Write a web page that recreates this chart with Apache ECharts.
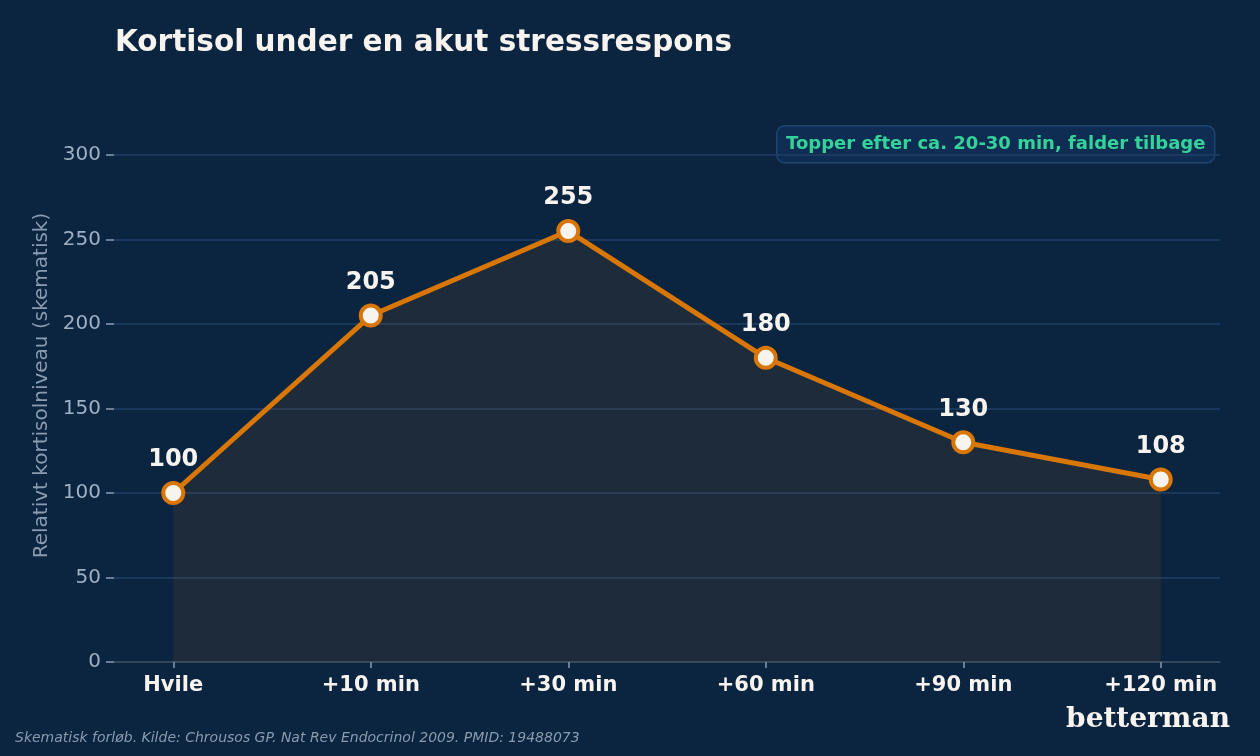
<!DOCTYPE html>
<html>
<head>
<meta charset="utf-8">
<script src="https://cdn.jsdelivr.net/npm/echarts@6/dist/echarts.min.js"></script>
<style>
  html, body { margin: 0; padding: 0; background: #0b2440; }
  #main { width: 1260px; height: 756px; }
</style>
</head>
<body>
<div id="main"></div>
<script>
// data
var categories = ['Hvile', '+10 min', '+30 min', '+60 min', '+90 min', '+120 min'];
var values = [100, 205, 255, 180, 130, 108];
var yTicks = [0, 50, 100, 150, 200, 250, 300];

var font = 'DejaVu Sans, sans-serif';
var myChart = echarts.init(document.getElementById('main'));

var seriesData = values.map(function (v, i) { return [i, v]; });

var option = {
    backgroundColor: '#0b2440',
    animation: false,
    title: {
        text: 'Kortisol under en akut stressrespons',
        left: 110,
        top: 23,
        textStyle: { color: '#f7f3ee', fontSize: 29.5, fontWeight: 'bold', fontFamily: font }
    },
    grid: { left: 114, right: 40, top: 155, bottom: 94 },
    xAxis: {
        type: 'value',
        min: -0.3,
        max: 5.3,
        splitLine: { show: false },
        axisLine: { show: true, lineStyle: { color: '#3b4b5e', width: 1.5 } },
        axisTick: {
            show: true, length: 6, customValues: [0, 1, 2, 3, 4, 5],
            lineStyle: { color: '#8a9bb0', width: 1.5 }
        },
        axisLabel: {
            customValues: [0, 1, 2, 3, 4, 5],
            margin: 13,
            color: '#f7f3ee', fontSize: 21, fontWeight: 'bold', fontFamily: font,
            formatter: function (v) { return categories[Math.round(v)]; }
        }
    },
    yAxis: {
        type: 'value',
        min: 0,
        max: 300,
        interval: 50,
        name: 'Relativt kortisolniveau (skematisk)',
        nameLocation: 'middle',
        nameGap: 62,
        nameTextStyle: { color: '#8a9bb0', fontSize: 20, fontFamily: font, padding: [0, 0, 0, 46] },
        axisLine: { show: false, onZero: false },
        axisTick: { show: true, length: 8, lineStyle: { color: '#8a9bb0', width: 1.5 } },
        axisLabel: {
            margin: 13, color: '#9fb0c4', fontSize: 20, fontFamily: font,
            customValues: yTicks
        },
        splitLine: { show: true, lineStyle: { color: '#1f3f66', width: 1.5 } }
    },
    graphic: [
        {
            type: 'group',
            left: 776,
            top: 125,
            children: [
                {
                    type: 'rect',
                    shape: { x: 0, y: 0, width: 438, height: 37, r: 8 },
                    style: { fill: '#0f2d52', stroke: '#1f4570', lineWidth: 1.5 }
                },
                {
                    type: 'text',
                    x: 219, y: 18.5,
                    style: {
                        text: 'Topper efter ca. 20-30 min, falder tilbage',
                        fill: '#34d399', fontSize: 18, fontWeight: 'bold', fontFamily: font,
                        align: 'center', verticalAlign: 'middle'
                    }
                }
            ]
        },
        {
            type: 'text',
            left: 15,
            top: 731,
            style: {
                text: 'Skematisk forløb. Kilde: Chrousos GP. Nat Rev Endocrinol 2009. PMID: 19488073',
                fill: '#8a9bb0', fontSize: 14, fontStyle: 'italic', fontFamily: font
            }
        },
        {
            type: 'text',
            right: 30,
            top: 706,
            style: {
                text: 'betterman',
                fill: '#f7f3ee', fontSize: 28, fontWeight: 'bold', fontFamily: 'DejaVu Serif, serif'
            }
        }
    ],
    series: [
        {
            type: 'line',
            data: seriesData,
            symbol: 'circle',
            symbolSize: 20,
            lineStyle: { color: '#d97706', width: 5 },
            itemStyle: { color: '#f7f3ee', borderColor: '#d97706', borderWidth: 4 },
            areaStyle: { color: '#d97706', opacity: 0.09, origin: 'start' },
            label: {
                show: true,
                position: 'top',
                distance: 9,
                color: '#f7f3ee',
                fontSize: 24,
                fontWeight: 'bold',
                fontFamily: font,
                formatter: function (p) { return p.value[1]; }
            },
            z: 3
        }
    ]
};
myChart.setOption(option);
</script>
</body>
</html>
